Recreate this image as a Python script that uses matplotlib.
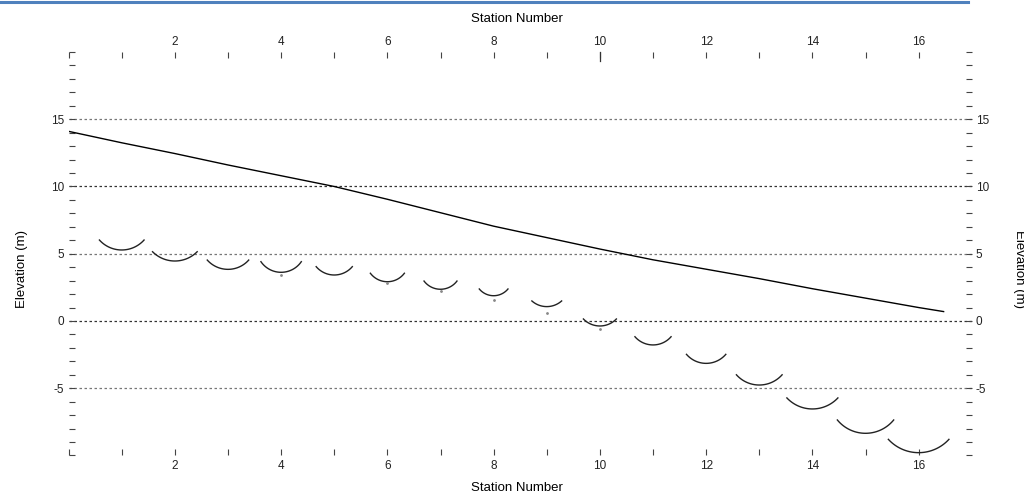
#!/usr/bin/env python3
"""Station profile: surface line and per-station arcs vs elevation."""
import matplotlib
matplotlib.use("Agg")
import matplotlib.pyplot as plt
import numpy as np
from matplotlib.lines import Line2D

plt.rcParams["font.family"] = ["Liberation Sans", "DejaVu Sans"]

# surface line (station, elevation m)
ground_x = [0, 1, 2, 3, 4, 5, 6, 7, 8, 9, 10, 11, 12, 13, 14, 15, 16, 16.47]
ground_y = [14.1, 13.25, 12.45, 11.6, 10.8, 10.0, 9.05, 8.05, 7.05, 6.2,
            5.35, 4.55, 3.85, 3.15, 2.4, 1.7, 1.0, 0.7]

# arcs below each station
stations = list(range(1, 17))
arc_bottom = [5.28, 4.46, 3.84, 3.62, 3.42, 2.92, 2.36, 1.88, 1.07, -0.37,
              -1.78, -3.15, -4.76, -6.54, -8.35, -9.79]
arc_top = [6.02, 5.15, 4.53, 4.41, 4.04, 3.55, 2.97, 2.38, 1.49, 0.15,
           -1.17, -2.48, -4.0, -5.72, -7.36, -8.8]
arc_halfwidth = [0.42, 0.42, 0.39, 0.38, 0.34, 0.32, 0.31, 0.27, 0.28, 0.31,
                 0.34, 0.37, 0.43, 0.48, 0.53, 0.57]

# small marks under some arcs
dot_x = [4, 6, 7, 8, 9, 10]
dot_y = [3.42, 2.8, 2.25, 1.56, 0.62, -0.6]

grid_levels = [15, 10, 5, 0, -5]
x_major = list(range(0, 17, 2))
y_major = list(range(-10, 21, 5))


def main():
    fig = plt.figure(figsize=(10.24, 4.99), dpi=100)
    ax = fig.add_axes([0.067, 0.0872, 0.882, 0.8086])
    ax.set_xlim(0, 17)
    ax.set_ylim(-10, 20)
    for s in ax.spines.values():
        s.set_visible(False)

    for lv in grid_levels:
        dark = lv in (0, 10)
        ax.axhline(lv, color="#333333" if dark else "#777777", lw=0.9,
                   ls=(0, (2, 2)), zorder=1)

    ax.plot(ground_x, ground_y, color="black", lw=1.0, zorder=3)

    # arcs drawn as circular arcs in screen space
    sx = fig.get_figwidth() * fig.dpi * 0.882 / 17
    sy = fig.get_figheight() * fig.dpi * 0.8086 / 30
    for cx, yb, yt, w in zip(stations, arc_bottom, arc_top, arc_halfwidth):
        W = w * sx
        H = (yt - yb) * sy
        R = (W ** 2 + H ** 2) / (2 * H)
        u = np.linspace(-W, W, 60)
        v = R - np.sqrt(R ** 2 - u ** 2)
        ax.plot(cx + u / sx, yb + v / sy, color="#222222", lw=1.0, zorder=3)

    ax.scatter(dot_x, dot_y, s=1.0, color="#888888", zorder=3)

    ax.set_xticks(x_major)
    ax.set_xticklabels([""] + [str(v) for v in x_major[1:]])
    ax.set_xticks(range(1, 17, 2), minor=True)
    ax.set_yticks(y_major)
    ax.set_yticklabels(["" if v in (-10, 20) else str(v) for v in y_major])
    ax.set_yticks(range(-10, 21), minor=True)
    ax.tick_params(which="both", direction="in", length=4, width=0.8,
                   color="#444444", top=True, right=True, labeltop=True,
                   labelright=True, labelsize=8.5, pad=3, labelcolor="#222222")
    # longer top tick at station 10
    ax.plot([10, 10], [20, 19.3], color="#333333", lw=0.9, clip_on=False)

    fig.text(0.505, 0.962, "Station Number", ha="center", va="center", fontsize=9.5)
    fig.text(0.505, 0.022, "Station Number", ha="center", va="center", fontsize=9.5)
    fig.text(0.021, 0.46, "Elevation (m)", ha="center", va="center",
             rotation=90, fontsize=9.5)
    fig.text(0.995, 0.46, "Elevation (m)", ha="center", va="center",
             rotation=270, fontsize=9.5)

    fig.add_artist(Line2D([0, 0.945], [0.995, 0.995], color="#4f81bd", lw=2.2,
                          transform=fig.transFigure))

    fig.savefig("out.png", dpi=100)
    plt.close(fig)


if __name__ == "__main__":
    main()
